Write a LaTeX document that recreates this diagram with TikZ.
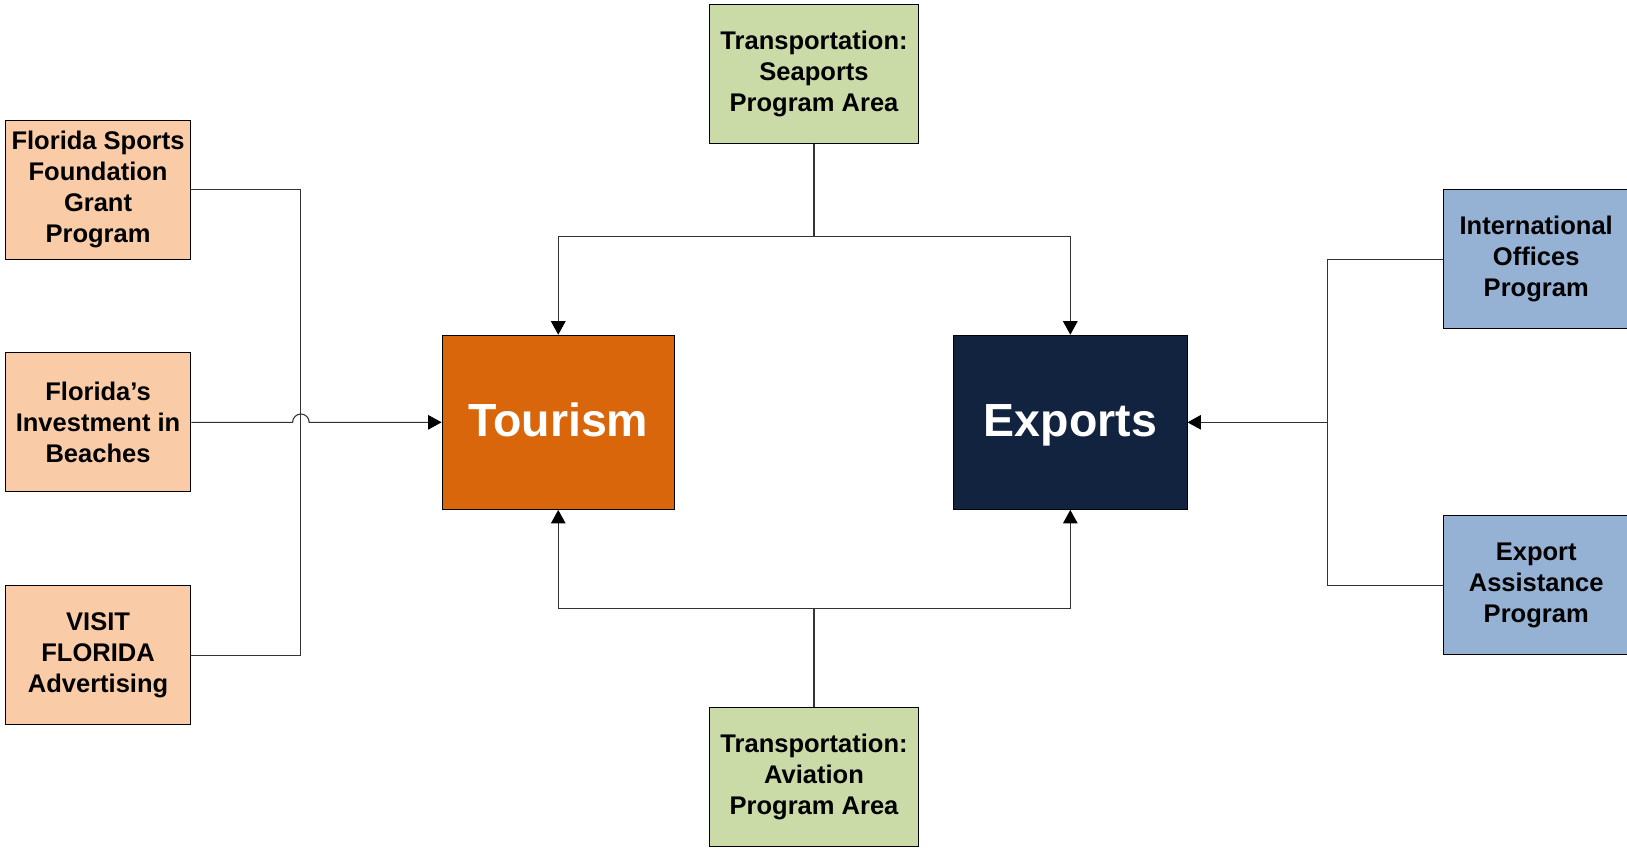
\documentclass[tikz,border=0pt]{standalone}
\usepackage{fontspec}
\setmainfont{Liberation Sans}
\usepackage{xcolor}
\usetikzlibrary{arrows.meta}

\definecolor{peach}{HTML}{FACBA7}
\definecolor{tourorange}{HTML}{D9660B}
\definecolor{navy}{HTML}{12233F}
\definecolor{sage}{HTML}{CBDBA8}
\definecolor{steel}{HTML}{95B2D5}

\begin{document}
\begin{tikzpicture}[x=0.02cm, y=-0.02cm]
\tikzstyle{prog} = [rectangle, minimum width=3.58cm, minimum height=2.68cm, align=center, draw=black, line width=0.5pt, font=\fontsize{14}{17}\selectfont\bfseries, inner sep=1pt]
\tikzstyle{sector} = [rectangle, minimum height=3.36cm, text centered, text height=18pt, text depth=2pt, draw=black, line width=0.5pt, text=white, font=\fontsize{25.5}{30}\selectfont\bfseries]
\tikzstyle{line} = [line width=0.6pt, black!80]
\tikzstyle{arrow} = [line, -{Triangle[length=0.26cm, width=0.28cm, color=black]}]

\useasboundingbox (0,0) rectangle (1568,819.2);

% tourism side
\node (sports) [prog, fill=peach] at (94.5,183) {Florida Sports\\Foundation\\Grant\\Program};
\node (invest) [prog, fill=peach] at (94.5,407) {Florida’s\\Investment in\\Beaches};
\node (visit) [prog, fill=peach] at (94.5,631.5) {VISIT\\FLORIDA\\Advertising};

% main sectors
\node (tourism) [sector, fill=tourorange, minimum width=4.48cm] at (538,407) {Tourism};
\node (exports) [sector, fill=navy, minimum width=4.5cm] at (1031.5,407) {Exports};

% transportation
\node (seaports) [prog, fill=sage, minimum width=4.02cm] at (784.5,71) {Transportation:\\Seaports\\Program Area};
\node (aviation) [prog, fill=sage, minimum width=4.02cm] at (784.5,749) {Transportation:\\Aviation\\Program Area};

% export side
\node (intl) [prog, fill=steel] at (1480.5,250) {International\\Offices\\Program};
\node (assist) [prog, fill=steel] at (1480.5,564) {Export\\Assistance\\Program};

\coordinate (lbus) at (290,407);
\coordinate (tbus) at (784.5,228);
\coordinate (bbus) at (784.5,586);
\coordinate (rbus) at (1279,407);

\draw [line] (sports.east) -| (lbus) |- (visit.east);
\draw [arrow] (invest.east) -- (282,407) arc[start angle=180, end angle=0, radius=0.16cm] -- (tourism.west);

\draw [line] (seaports.south) -- (tbus);
\draw [arrow] (tbus) -| (tourism.north);
\draw [arrow] (tbus) -| (exports.north);

\draw [line] (aviation.north) -- (bbus);
\draw [arrow] (bbus) -| (tourism.south);
\draw [arrow] (bbus) -| (exports.south);

\draw [line] (intl.west) -| (rbus) |- (assist.west);
\draw [arrow] (rbus) -- (exports.east);

\end{tikzpicture}
\end{document}
